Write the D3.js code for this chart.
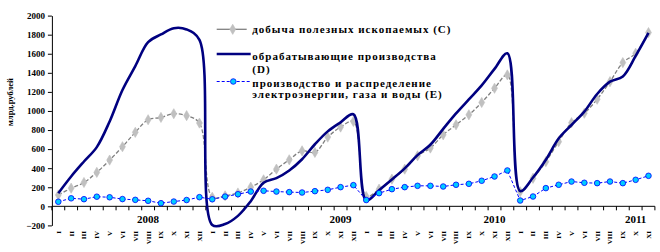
<!DOCTYPE html>
<html><head><meta charset="utf-8">
<script src="https://cdn.jsdelivr.net/npm/d3@7"></script>
<style>body{margin:0;background:#fff} svg{display:block}</style>
</head><body><svg id="c" width="660" height="252"></svg>
<script>
const months = ["I","II","III","IV","V","VI","VII","VIII","IX","X","XI","XII"];
const years = ["2008","2009","2010","2011"];
const lastYearMonths = 11;
const categories = [];
years.forEach((y, yi) => months.forEach((m, mi) => {
  if (yi < years.length - 1 || mi < lastYearMonths) categories.push(y + "-" + m);
}));
const yearLabelAt = ["2008-VIII", "2009-XI", "2010-XI", "2011-X"];
const yTicks = [-200, 0, 200, 400, 600, 800, 1000, 1200, 1400, 1600, 1800, 2000];

const seriesNames = [
  "добыча полезных ископаемых (С)",
  "обрабатывающие производства (D)",
  "производство и распределение электроэнергии, газа и воды (Е)"
];
const mining = [119,190,250,356,485,625,776,908,932,971,951,873,
  95,110,140,201,278,390,488,582,565,726,831,890,
  103,180,285,390,530,611,750,855,960,1089,1238,1378,
  153,294,468,678,877,976,1123,1307,1507,1605,1822];
const manufacturing = [138,313,470,621,890,1220,1470,1721,1802,1868,1855,1745,
  -195,-186,-100,54,248,296,376,494,651,786,881,965,
  60,169,281,398,537,646,812,974,1121,1268,1441,1605,
  160,302,489,711,853,993,1178,1307,1362,1577,1818];
const utilities = [48,84,75,101,95,76,68,58,33,50,66,96,
  74,102,127,155,163,155,149,145,159,173,201,222,
  66,138,180,201,215,215,208,226,236,268,313,376,
  61,103,191,226,260,247,243,260,243,278,320];

const svg = d3.select("#c");
const serif = "'Liberation Serif','Times New Roman',serif";
const x = d3.scaleBand().domain(categories).range([51.9, 654.9]);
const y = d3.scaleLinear().domain([-200, 2000]).range([225.4, 15.6]);
const cx = c => x(c) + x.bandwidth() / 2;

// Y axis
const yAxis = svg.append("g").attr("transform", "translate(51.9,0)")
  .call(d3.axisLeft(y).tickValues(yTicks).tickFormat(d3.format("d")).tickSize(4).tickPadding(3).tickSizeOuter(0));
yAxis.select(".domain").attr("stroke", "#000");
yAxis.selectAll(".tick line").attr("stroke", "#000");
yAxis.selectAll("text").attr("font-family", serif).attr("font-weight", "bold").attr("font-size", 9).attr("fill", "#000");

// X axis at zero
const xg = svg.append("g");
xg.append("line").attr("x1", 51.9).attr("x2", 654.9).attr("y1", y(0)).attr("y2", y(0)).attr("stroke", "#000");
xg.selectAll("line.t").data(categories.concat(["end"])).enter().append("line")
  .attr("x1", d => d === "end" ? x.range()[1] : x(d)).attr("x2", d => d === "end" ? x.range()[1] : x(d))
  .attr("y1", y(0)).attr("y2", y(0) + 4).attr("stroke", "#000");
xg.selectAll("text.m").data(categories).enter().append("text")
  .attr("transform", d => `translate(${cx(d)},231) rotate(-90)`)
  .attr("text-anchor", "end").attr("dy", "0.35em")
  .attr("font-family", serif).attr("font-weight", "bold").attr("font-size", 7)
  .text(d => d.split("-")[1]);
xg.selectAll("text.y").data(years).enter().append("text")
  .attr("x", (d, i) => cx(yearLabelAt[i])).attr("y", 223)
  .attr("text-anchor", "middle").attr("font-family", serif).attr("font-weight", "bold").attr("font-size", 11)
  .text(d => d);

// Y title
svg.append("text").attr("transform", "translate(13,102) rotate(-90)").attr("text-anchor", "middle")
  .attr("font-family", serif).attr("font-weight", "bold").attr("font-size", 8.5).text("млрд.рублей");

const idx = categories.map((c, i) => i);
const smooth = d3.curveCatmullRom.alpha(0.5);
// C
svg.append("path").datum(idx).attr("fill", "none").attr("stroke", "#808080").attr("stroke-width", 1.3)
  .attr("stroke-dasharray", "4,2")
  .attr("d", d3.line().x(i => cx(categories[i])).y(i => y(mining[i])).curve(smooth));
const diamond = d3.symbol().type(d3.symbolDiamond).size(30);
svg.selectAll("path.dm").data(idx).enter().append("path")
  .attr("transform", i => `translate(${cx(categories[i])},${y(mining[i])})`)
  .attr("d", diamond).attr("fill", "#c0c0c0").attr("stroke", "#c0c0c0").attr("stroke-width", 0.6);
// D
svg.append("path").datum(idx).attr("fill", "none").attr("stroke", "#000080").attr("stroke-width", 2.6)
  .attr("d", d3.line().x(i => cx(categories[i])).y(i => y(manufacturing[i])).curve(smooth));
// E
svg.append("path").datum(idx).attr("fill", "none").attr("stroke", "#0000ff").attr("stroke-width", 1)
  .attr("stroke-dasharray", "3,2")
  .attr("d", d3.line().x(i => cx(categories[i])).y(i => y(utilities[i])));
svg.selectAll("circle.e").data(idx).enter().append("circle")
  .attr("cx", i => cx(categories[i])).attr("cy", i => y(utilities[i])).attr("r", 2.8)
  .attr("fill", "#00ccff").attr("stroke", "#0000ff").attr("stroke-width", 0.8);

// Legend
const lg = svg.append("g");
const lt = (t, yy) => lg.append("text").attr("x", 252.3).attr("y", yy).attr("font-family", serif)
  .attr("font-weight", "bold").attr("font-size", 11).attr("letter-spacing", 1).text(t);
lg.append("line").attr("x1", 216.7).attr("x2", 246.7).attr("y1", 29.3).attr("y2", 29.3).attr("stroke", "#808080").attr("stroke-width", 1.3);
lg.append("path").attr("transform", "translate(232.7,29.3)").attr("d", diamond).attr("fill", "#c0c0c0").attr("stroke", "#c0c0c0").attr("stroke-width", 0.6);
lt(seriesNames[0], 33);
lg.append("line").attr("x1", 216.7).attr("x2", 250.7).attr("y1", 54).attr("y2", 54).attr("stroke", "#000080").attr("stroke-width", 2.6);
lt("обрабатывающие производства", 59.5);
lt("(D)", 72.5);
lg.append("line").attr("x1", 216.7).attr("x2", 250.7).attr("y1", 81.5).attr("y2", 81.5).attr("stroke", "#0000ff").attr("stroke-dasharray", "3,2");
lg.append("circle").attr("cx", 233.3).attr("cy", 81.5).attr("r", 2.8).attr("fill", "#00ccff").attr("stroke", "#0000ff").attr("stroke-width", 0.8);
lt("производство и распределение", 86.5);
lt("электроэнергии, газа и воды (Е)", 98);
</script></body></html>
